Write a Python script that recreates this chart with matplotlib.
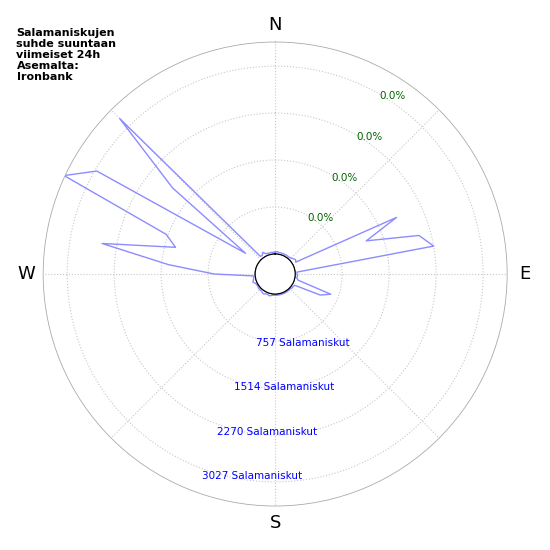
import numpy as np
import matplotlib
matplotlib.use('Agg')
from matplotlib import pyplot as plt

# lightning count per 5 degree direction bin, 0 = north, clockwise
directions = np.arange(0, 360, 5)
counts = [30, 40, 30, 30, 30, 30, 30, 30, 30, 40, 60, 80,
          60, 1835, 1240, 2077, 2270, 30, 30, 40, 30, 60, 630, 480,
          40, 30, 30, 20, 20, 20, 20, 20, 20, 20, 20, 20,
          20, 20, 30, 40, 30, 30, 50, 40, 30, 30, 30, 20,
          20, 30, 60, 40, 30, 30, 660, 1400, 2510, 1340, 1545, 3430,
          2995, 260, 1835, 3220, 50, 40, 80, 40, 30, 30, 30, 30]
ring_values = [757, 1514, 2270, 3027]
ring_labels = ['757 Salamaniskut', '1514 Salamaniskut', '2270 Salamaniskut', '3027 Salamaniskut']
pct_labels = ['0.0%', '0.0%', '0.0%', '0.0%']
title = 'Salamaniskujen\nsuhde suuntaan\nviimeiset 24h\nAsemalta:\nIronbank'

rmax = 3415
fig = plt.figure(figsize=(5.5, 5.5), dpi=100)
ax = fig.add_axes([0.0785, 0.08, 0.8436, 0.8436], projection='polar')
ax.set_theta_zero_location('N')
ax.set_theta_direction(-1)
ax.set_ylim(0, rmax)
ax.set_rorigin(-rmax * 20 / 212)

theta = np.deg2rad(np.append(directions, directions[0]))
r = np.append(counts, counts[0])
ax.plot(theta, r, color='#8c8cff', lw=1)

# inner hole outline
t = np.linspace(0, 2 * np.pi, 200)
ax.plot(t, np.zeros_like(t), color='#222244', lw=0.9)

ax.set_rgrids(ring_values, labels=[''] * 4)
ax.set_thetagrids(range(0, 360, 45), labels=['N', '', 'E', '', 'S', '', 'W', ''], fontsize=13)
ax.tick_params(axis='x', pad=2)
ax.grid(True, color='#c8c8c8', linestyle=':', lw=0.8)
ax.spines['polar'].set_color('#aaaaaa')
ax.spines['polar'].set_linewidth(0.6)

for ang, rv, lab in zip([158, 175.5, 183, 186.5], [870, 1500, 2220, 2950], ring_labels):
    ax.text(np.deg2rad(ang), rv, lab, color='blue', fontsize=7.5, ha='center', va='center')
for ang, rv, lab in zip([39.4, 35.7, 34.5, 33.5], [840, 1580, 2350, 3110], pct_labels):
    ax.text(np.deg2rad(ang), rv, lab, color='darkgreen', fontsize=7.5, ha='center', va='center')

fig.text(0.03, 0.95, title, fontsize=8, fontweight='bold', ha='left', va='top', linespacing=1.15)
fig.savefig('out.png', dpi=100)
